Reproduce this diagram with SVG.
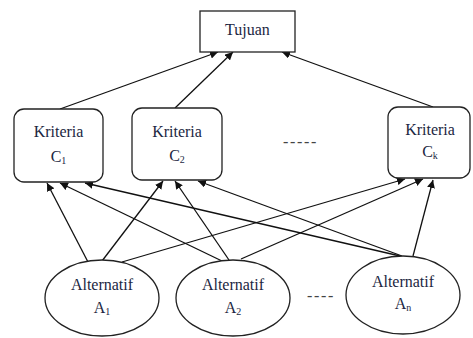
<svg xmlns="http://www.w3.org/2000/svg" width="473" height="338" viewBox="0 0 473 338">
<style>
.box{fill:#fff;stroke:#222;stroke-width:1.3}
.t{font-family:'Liberation Serif','Times New Roman','DejaVu Serif',serif;font-size:16px;fill:#1c2742;text-anchor:middle}
.sub{font-size:10px}
.c line{stroke:#111;stroke-width:1.3;marker-end:url(#ah)}
.dash{font-family:'Liberation Serif','DejaVu Serif',serif;font-size:16px;fill:#444;letter-spacing:1.7px}
</style>
<defs>
<marker id="ah" viewBox="0 0 10 10" refX="10" refY="5" markerWidth="8" markerHeight="8" markerUnits="userSpaceOnUse" orient="auto">
<path d="M0,0 L10,5 L0,10 z" fill="#111"/>
</marker>
</defs>
<rect width="473" height="338" fill="#fff"/>
<g class="c">
<line x1="60" y1="109" x2="218" y2="52"/>
<line x1="175" y1="108" x2="233" y2="52"/>
<line x1="433" y1="107" x2="282" y2="52"/>
<line x1="88" y1="262" x2="47" y2="183"/>
<line x1="102" y1="261" x2="163" y2="181"/>
<line x1="122" y1="262" x2="405" y2="179"/>
<line x1="222" y1="261" x2="60" y2="183"/>
<line x1="229" y1="260" x2="175" y2="181"/>
<line x1="241" y1="259" x2="423" y2="179"/>
<line x1="400" y1="256" x2="85" y2="183"/>
<line x1="402" y1="256" x2="198" y2="181"/>
<line x1="413" y1="256" x2="433" y2="180"/>
</g>
<g id="tujuan">
<rect class="box" x="200" y="11" width="95" height="41"/>
<text class="t" x="247.5" y="35" font-family="Liberation Serif, serif">Tujuan</text>
</g>
<g id="c1">
<rect class="box" x="14" y="109" width="89" height="73" rx="10"/>
<text class="t" x="58.5" y="137">Kriteria</text>
<text class="t" x="58.5" y="162">C<tspan class="sub" dy="2">1</tspan></text>
</g>
<g id="c2">
<rect class="box" x="132" y="108" width="90" height="72" rx="10"/>
<text class="t" x="177" y="137">Kriteria</text>
<text class="t" x="177" y="161">C<tspan class="sub" dy="2">2</tspan></text>
</g>
<g id="ck">
<rect class="box" x="388" y="107" width="82" height="71" rx="10"/>
<text class="t" x="430" y="135">Kriteria</text>
<text class="t" x="430" y="157">C<tspan class="sub" dy="2">k</tspan></text>
</g>
<text class="dash" x="283" y="147">-----</text>
<g id="a1">
<ellipse class="box" cx="102" cy="298" rx="57" ry="38"/>
<text class="t" x="102" y="290">Alternatif</text>
<text class="t" x="102" y="313">A<tspan class="sub" dy="2">1</tspan></text>
</g>
<g id="a2">
<ellipse class="box" cx="233" cy="298" rx="57" ry="38"/>
<text class="t" x="233" y="290">Alternatif</text>
<text class="t" x="233" y="313">A<tspan class="sub" dy="2">2</tspan></text>
</g>
<g id="an">
<ellipse class="box" cx="403" cy="295" rx="57" ry="39"/>
<text class="t" x="403" y="287">Alternatif</text>
<text class="t" x="403" y="309">A<tspan class="sub" dy="2">n</tspan></text>
</g>
<text class="dash" x="307" y="301">----</text>
</svg>
